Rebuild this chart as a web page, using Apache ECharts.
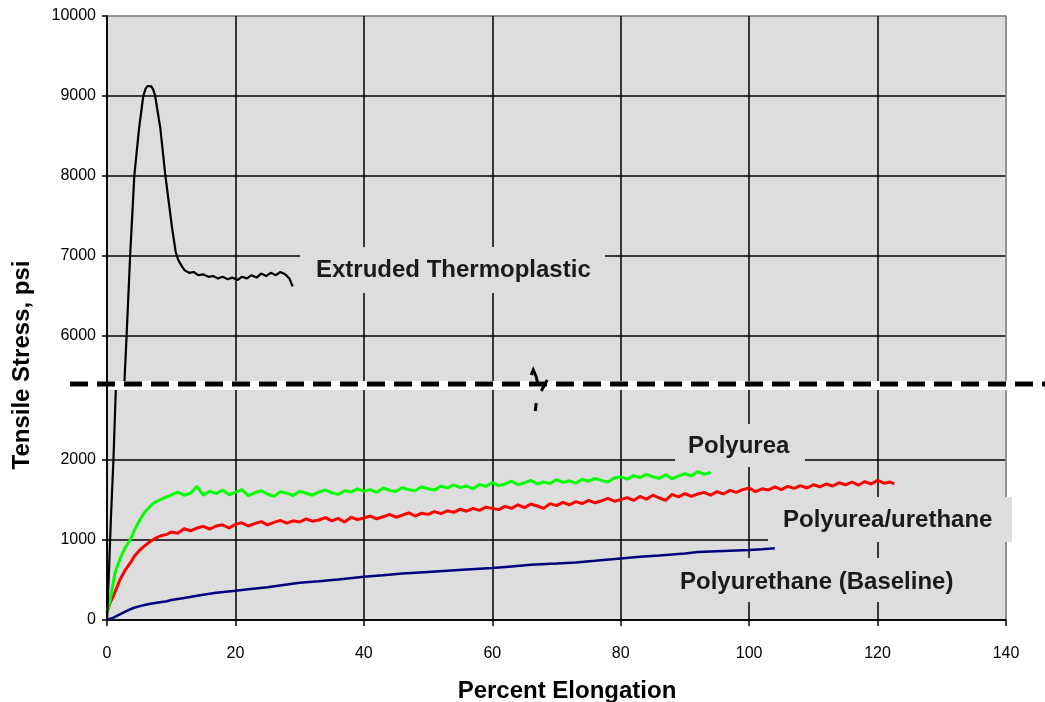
<!DOCTYPE html>
<html><head><meta charset="utf-8">
<script src="https://cdn.jsdelivr.net/npm/echarts@6/dist/echarts.min.js"></script>
<style>html,body{margin:0;padding:0;background:#fff}#c{width:1045px;height:702px}</style>
</head><body><div id="c"></div>
<script>
// ---- tick labels ----
const yTickLabels = [0, 1000, 2000, 6000, 7000, 8000, 9000, 10000];
const xTickLabels = [0, 20, 40, 60, 80, 100, 120, 140];
const yBreak = [2950, 5400];

// ---- Extruded Thermoplastic ----
const thermoElong = [0, 0.3, 0.6, 1.0, 1.4, 2.7, 3.05, 3.6, 4.25, 5.0, 5.65, 6.0, 6.3, 6.6, 6.9, 7.2, 7.5, 8.3, 9.1, 10.1, 10.7, 11.1, 11.6, 12.1, 12.8, 13.5, 14.2, 15.0, 15.8, 16.5, 17.3, 18.0, 18.8, 19.5, 20.3, 21.0, 21.8, 22.5, 23.3, 24.0, 24.8, 25.5, 26.3, 27.0, 27.8, 28.4, 28.9];
const thermoStress = [0, 600, 1250, 2000, 2950, 5400, 6000, 7000, 8000, 8600, 9000, 9090, 9125, 9135, 9120, 9080, 9000, 8600, 8000, 7370, 7050, 6950, 6880, 6820, 6790, 6800, 6760, 6770, 6740, 6750, 6720, 6740, 6710, 6730, 6700, 6740, 6720, 6760, 6730, 6780, 6750, 6790, 6760, 6800, 6770, 6720, 6620];

// ---- Polyurea ----
const ureaElong = [0, 0.5, 1.25, 2, 2.8, 3.6, 4.3, 5.1, 5.9, 6.7, 7.4, 8.2, 9.0, 10, 11, 12, 13, 14, 15, 16, 17, 18, 19, 20, 21, 22, 23, 24, 25, 26, 27, 28, 29, 30, 31, 32, 33, 34, 35, 36, 37, 38, 39, 40, 41, 42, 43, 44, 45, 46, 47, 48, 49, 50, 51, 52, 53, 54, 55, 56, 57, 58, 59, 60, 61, 62, 63, 64, 65, 66, 67, 68, 69, 70, 71, 72, 73, 74, 75, 76, 77, 78, 79, 80, 81, 82, 83, 84, 85, 86, 87, 88, 89, 90, 91, 92, 93, 94];
const ureaStress = [100, 250, 590, 760, 900, 1000, 1130, 1250, 1350, 1420, 1470, 1500, 1530, 1560, 1600, 1560, 1585, 1670, 1560, 1610, 1580, 1625, 1565, 1595, 1630, 1555, 1590, 1615, 1575, 1545, 1605, 1585, 1555, 1610, 1585, 1560, 1600, 1625, 1590, 1570, 1615, 1600, 1640, 1610, 1630, 1595, 1650, 1620, 1605, 1655, 1630, 1615, 1665, 1640, 1625, 1675, 1650, 1690, 1655, 1675, 1640, 1695, 1670, 1720, 1680, 1700, 1735, 1690, 1715, 1745, 1700, 1725, 1705, 1755, 1720, 1740, 1710, 1760, 1735, 1770, 1745, 1725, 1775, 1790, 1760, 1805, 1780, 1820, 1790, 1770, 1815, 1765, 1800, 1830, 1800, 1855, 1820, 1845];

// ---- Polyurea/urethane ----
const hybridElong = [0, 0.5, 1, 2, 2.8, 3.6, 4.3, 5.1, 5.9, 6.7, 7.5, 8.3, 9.3, 10, 11, 12, 13, 14, 15, 16, 17, 18, 19, 20, 21, 22, 23, 24, 25, 26, 27, 28, 29, 30, 31, 32, 33, 34, 35, 36, 37, 38, 39, 40, 41, 42, 43, 44, 45, 46, 47, 48, 49, 50, 51, 52, 53, 54, 55, 56, 57, 58, 59, 60, 61, 62, 63, 64, 65, 66, 67, 68, 69, 70, 71, 72, 73, 74, 75, 76, 77, 78, 79, 80, 81, 82, 83, 84, 85, 86, 87, 88, 89, 90, 91, 92, 93, 94, 95, 96, 97, 98, 99, 100, 101, 102, 103, 104, 105, 106, 107, 108, 109, 110, 111, 112, 113, 114, 115, 116, 117, 118, 119, 120, 121, 122, 122.6];
const hybridStress = [100, 220, 300, 500, 620, 710, 800, 875, 930, 980, 1020, 1050, 1070, 1100, 1085, 1140, 1115, 1150, 1170, 1135, 1175, 1190, 1150, 1195, 1215, 1175, 1205, 1230, 1190, 1220, 1245, 1210, 1240, 1225, 1265, 1235, 1250, 1280, 1240, 1270, 1225, 1285, 1255, 1275, 1300, 1265, 1290, 1320, 1285, 1310, 1340, 1300, 1335, 1320, 1355, 1330, 1365, 1345, 1385, 1360, 1395, 1370, 1410, 1395, 1380, 1420, 1395, 1440, 1405, 1450, 1425, 1395, 1455, 1430, 1470, 1440, 1480, 1455, 1495, 1465, 1490, 1520, 1485, 1505, 1530, 1495, 1545, 1510, 1560, 1525, 1495, 1570, 1540, 1580, 1545, 1575, 1595, 1560, 1605, 1575, 1620, 1595, 1630, 1650, 1605, 1640, 1625, 1665, 1630, 1670, 1645, 1680, 1650, 1690, 1665, 1700, 1675, 1715, 1690, 1725, 1685, 1730, 1700, 1745, 1710, 1725, 1700];

// ---- Polyurethane (Baseline) ----
const baseElong = [0, 1, 2, 3, 4.1, 5, 6, 7, 8, 9.3, 10, 12, 14.5, 17, 20, 22, 25, 28, 30, 33, 36, 40, 43, 46, 50, 53, 56, 60, 63, 66, 70, 73, 76, 80, 83, 86, 90, 92, 95, 98, 100, 102, 104];
const baseStress = [0, 30, 70, 110, 150, 170, 190, 205, 220, 235, 250, 275, 310, 340, 366, 385, 410, 445, 466, 485, 505, 541, 560, 580, 600, 615, 630, 650, 670, 690, 705, 720, 740, 770, 790, 805, 830, 850, 860, 870, 875, 885, 896];

const FONT = "'Liberation Sans', Arial, Helvetica, sans-serif";
const GRID_BG = '#dddddd';
const pairs = (xs, ys) => xs.map((x, i) => [x, ys[i]]);

const chart = echarts.init(document.getElementById('c'), null, { renderer: 'canvas' });

const xSplitColors = xTickLabels.map((v, i) => i === xTickLabels.length - 1 ? '#8c8c8c' : '#000');
const ySplitColors = yTickLabels.map((v, i) => i === yTickLabels.length - 1 ? '#8c8c8c' : '#000');

const option = {
  animation: false,
  backgroundColor: '#ffffff',
  grid: { left: 107, right: 39, top: 16, bottom: 82, show: true, backgroundColor: GRID_BG, borderColor: '#8c8c8c', borderWidth: 1.5 },
  xAxis: {
    type: 'value', min: 0, max: 140, interval: 20,
    axisLine: { lineStyle: { color: '#000', width: 1.5 } },
    axisTick: { show: true, length: 6, lineStyle: { color: '#000', width: 1.5 } },
    axisLabel: { color: '#000', fontSize: 16, fontFamily: FONT, margin: 26 },
    splitLine: { show: true, lineStyle: { color: xSplitColors, width: 1.5 } }
  },
  yAxis: {
    type: 'value', min: 0, max: 10000, interval: 1000,
    breaks: [{ start: yBreak[0], end: yBreak[1], gap: 0 }],
    breakArea: { show: false },
    axisLine: { show: true, lineStyle: { color: '#000', width: 1.5 } },
    axisTick: { show: true, length: 5, customValues: yTickLabels, lineStyle: { color: '#000', width: 1.5 } },
    axisLabel: { customValues: yTickLabels, color: '#000', fontSize: 16, fontFamily: FONT, margin: 11,
      formatter: v => (yTickLabels.indexOf(v) >= 0 ? String(v) : '') },
    splitLine: { show: true, lineStyle: { color: ySplitColors, width: 1.5 } }
  },
  series: [
    { name: 'Polyurethane (Baseline)', type: 'line', data: pairs(baseElong, baseStress), showSymbol: false, symbol: 'none', lineStyle: { color: '#000080', width: 2.5 } },
    { name: 'Polyurea/urethane', type: 'line', data: pairs(hybridElong, hybridStress), showSymbol: false, symbol: 'none', lineStyle: { color: '#ff0000', width: 3 } },
    { name: 'Polyurea', type: 'line', data: pairs(ureaElong, ureaStress), showSymbol: false, symbol: 'none', lineStyle: { color: '#00ff00', width: 3 } },
    { name: 'Extruded Thermoplastic', type: 'line', data: pairs(thermoElong, thermoStress), showSymbol: false, symbol: 'none', lineStyle: { color: '#000', width: 2.2 } }
  ]
};
chart.setOption(option);

// decorations: break band, dashed line, break symbol, label boxes, axis titles
const yb = chart.convertToPixel({ yAxisIndex: 0 }, yBreak[0]);
const xL = chart.convertToPixel({ xAxisIndex: 0 }, 0);
const xR = chart.convertToPixel({ xAxisIndex: 0 }, 140);
const xs = chart.convertToPixel({ xAxisIndex: 0 }, 67);

function labelBox(x, y, w, h, text, tx, ty) {
  return [
    { type: 'rect', z: 1, silent: true, shape: { x: x, y: y, width: w, height: h }, style: { fill: GRID_BG } },
    { type: 'text', z: 3, silent: true, x: tx, y: ty, style: { text: text, font: 'bold 24px ' + FONT, fill: '#1a1a1a', textAlign: 'left', textVerticalAlign: 'middle' } }
  ];
}

chart.setOption({
  graphic: [].concat(
    [
      { type: 'rect', z: 20, silent: true, shape: { x: xL + 1, y: yb - 3, width: xR - xL + 4, height: 9 }, style: { fill: '#ffffff' } },
      { type: 'line', z: 21, silent: true, shape: { x1: 70, y1: yb, x2: 1045, y2: yb }, style: { stroke: '#000', lineWidth: 5, lineDash: [18, 9] } },
      { type: 'polyline', z: 22, silent: true, shape: { points: [[xs - 6, yb - 9], [xs - 4, yb - 14], [xs - 1, yb - 7], [xs + 1, yb + 1]] }, style: { stroke: '#000', lineWidth: 3, fill: null } },
      { type: 'line', z: 22, silent: true, shape: { x1: xs + 4, y1: yb + 7, x2: xs + 10, y2: yb - 4 }, style: { stroke: '#000', lineWidth: 3 } },
      { type: 'line', z: 22, silent: true, shape: { x1: xs - 1, y1: yb + 19, x2: xs - 2, y2: yb + 27 }, style: { stroke: '#000', lineWidth: 3 } }
    ],
    labelBox(300, 247, 305, 46, 'Extruded Thermoplastic', 316, 270),
    labelBox(675, 424, 130, 43, 'Polyurea', 688, 446),
    labelBox(768, 497, 244, 45, 'Polyurea/urethane', 783, 520),
    labelBox(668, 558, 297, 44, 'Polyurethane (Baseline)', 680, 582),
    [
      { type: 'text', z: 5, silent: true, x: 22, y: 365, rotation: Math.PI / 2, style: { text: 'Tensile Stress, psi', font: 'bold 24px ' + FONT, fill: '#000', textAlign: 'center', textVerticalAlign: 'middle' } },
      { type: 'text', z: 5, silent: true, x: 567, y: 691, style: { text: 'Percent Elongation', font: 'bold 24px ' + FONT, fill: '#000', textAlign: 'center', textVerticalAlign: 'middle' } }
    ]
  )
});
</script>
</body></html>
